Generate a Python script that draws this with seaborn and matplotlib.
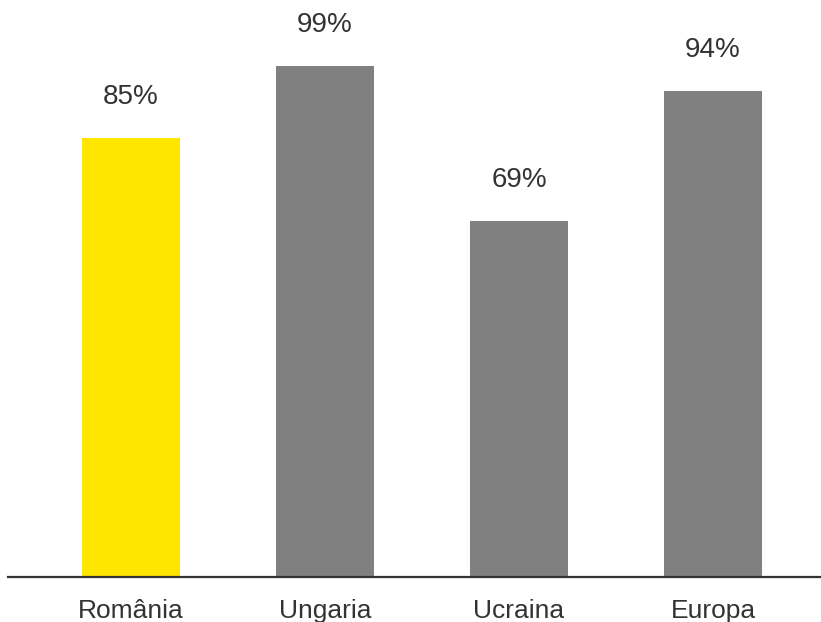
import seaborn as sns
import matplotlib.pyplot as plt

countries = ['România', 'Ungaria', 'Ucraina', 'Europa']
values = [85, 99, 69, 94]
colors = ['#FFE600', '#808080', '#808080', '#808080']

sns.set_style('white')
plt.rcParams['font.family'] = ['Liberation Sans', 'DejaVu Sans']

fig = plt.figure(figsize=(8.21, 6.22), dpi=100)
ax = fig.add_axes([8 / 821, 45 / 622, 813 / 821, 577 / 622])

sns.barplot(x=countries, y=values, hue=countries, palette=colors,
            width=0.505, saturation=1, legend=False, linewidth=0, ax=ax)

ax.set_xlim(-0.634, 3.557)
ax.set_ylim(0, 111.7)

for i, v in enumerate(values):
    ax.annotate(f'{v}%', xy=(i, v), xytext=(0, 24.5), textcoords='offset points',
                ha='center', va='baseline', fontsize=20, color='#333333')

for s in ['top', 'left', 'right']:
    ax.spines[s].set_visible(False)
ax.spines['bottom'].set_color('#333333')
ax.spines['bottom'].set_linewidth(1.6)

ax.set_yticks([])
ax.tick_params(axis='x', length=0, pad=16, labelsize=19, labelcolor='#333333')
ax.set_xlabel('')
ax.set_ylabel('')

fig.savefig('out.png', dpi=100)
